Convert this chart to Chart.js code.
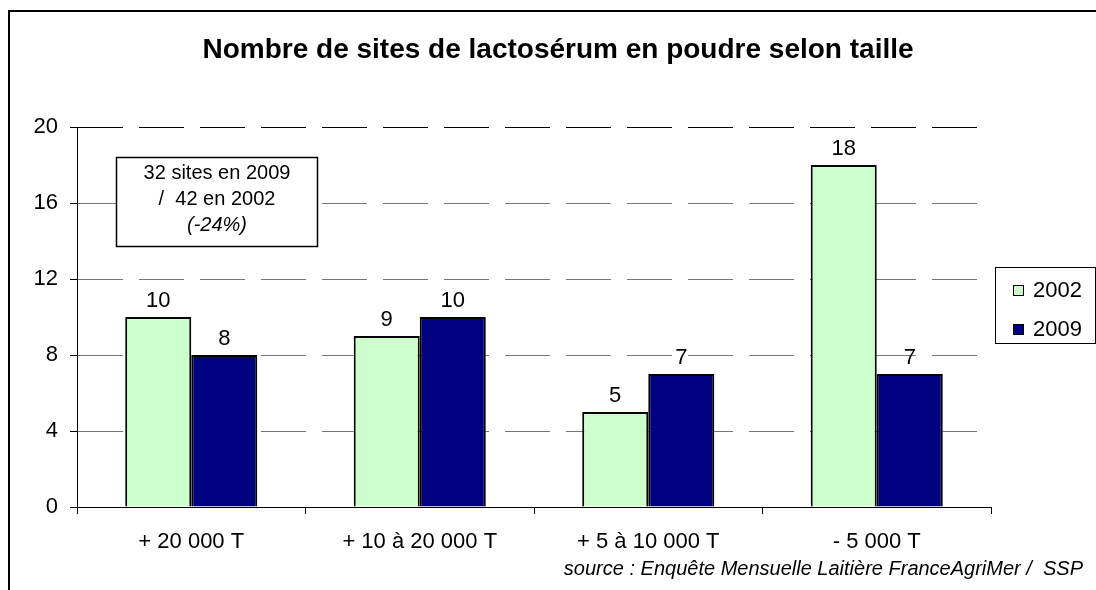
<!DOCTYPE html>
<html>
<head>
<meta charset="utf-8">
<script src="https://cdn.jsdelivr.net/npm/chart.js@4.4.1/dist/chart.umd.min.js"></script>
<style>
  html, body { margin: 0; padding: 0; background: #fff; }
  #wrap { width: 1096px; height: 590px; position: relative; }
</style>
</head>
<body>
<div id="wrap"><canvas id="chart" width="1096" height="590"></canvas></div>
<script>
// data
const categories = ['+ 20 000 T', '+ 10 à 20 000 T', '+ 5 à 10 000 T', '- 5 000 T'];
const series2002 = [10, 9, 5, 18];
const series2009 = [8, 10, 7, 7];
const seriesNames = ['2002', '2009'];
const yTicks = [0, 4, 8, 12, 16, 20];
const titleText = 'Nombre de sites de lactosérum en poudre selon taille';
const noteLines = ['32 sites en 2009', '/  42 en 2002', '(-24%)'];
const sourceText = 'source : Enquête Mensuelle Laitière FranceAgriMer /  SSP';

const FONT = '"Liberation Sans", Arial, sans-serif';
const colors = ['#CCFFCC', '#000080'];

// frame, title, note box, legend, source
const decorPlugin = {
  id: 'decor',
  beforeDraw(chart) {
    const ctx = chart.ctx;
    ctx.save();
    ctx.fillStyle = '#fff';
    ctx.fillRect(0, 0, chart.width, chart.height);
    ctx.strokeStyle = '#000';
    ctx.lineWidth = 2;
    ctx.beginPath();
    ctx.moveTo(9, 590);
    ctx.lineTo(9, 11);
    ctx.lineTo(1096, 11);
    ctx.stroke();
    ctx.restore();
  },
  afterDraw(chart) {
    const ctx = chart.ctx;
    ctx.save();
    ctx.fillStyle = '#000';
    ctx.textAlign = 'center';
    ctx.textBaseline = 'middle';
    ctx.font = 'bold 28px ' + FONT;
    ctx.fillText(titleText, 558, 50);

    // note box
    ctx.fillStyle = '#fff';
    ctx.fillRect(116, 157, 201, 89);
    ctx.strokeStyle = '#000';
    ctx.lineWidth = 1.5;
    ctx.strokeRect(116.5, 157.5, 201, 89);
    ctx.fillStyle = '#000';
    ctx.font = '20px ' + FONT;
    ctx.fillText(noteLines[0], 217, 173);
    ctx.fillText(noteLines[1], 217, 199);
    ctx.font = 'italic 20px ' + FONT;
    ctx.fillText(noteLines[2], 217, 225);

    // legend
    ctx.fillStyle = '#fff';
    ctx.fillRect(995, 267, 100, 76);
    ctx.strokeStyle = '#000';
    ctx.lineWidth = 1;
    ctx.strokeRect(995.5, 267.5, 100, 76);
    ctx.font = '22px ' + FONT;
    ctx.textAlign = 'left';
    const ys = [290, 329];
    seriesNames.forEach((name, i) => {
      ctx.fillStyle = colors[i];
      ctx.fillRect(1013, ys[i] - 5, 11, 11);
      ctx.strokeStyle = '#000';
      ctx.strokeRect(1013.5, ys[i] - 4.5, 10, 10);
      ctx.fillStyle = '#000';
      ctx.fillText(name, 1033, ys[i] + 1);
    });

    // source
    ctx.font = 'italic 20px ' + FONT;
    ctx.textAlign = 'right';
    ctx.fillText(sourceText, 1083, 569);

    // value labels
    ctx.font = '22px ' + FONT;
    ctx.textAlign = 'center';
    ctx.textBaseline = 'middle';
    chart.data.datasets.forEach((ds, di) => {
      chart.getDatasetMeta(di).data.forEach((bar, i) => {
        ctx.fillText(String(ds.data[i]), bar.x, bar.y - 16);
      });
    });
    ctx.restore();
  }
};

new Chart(document.getElementById('chart'), {
  type: 'bar',
  data: {
    labels: categories,
    datasets: [
      { label: seriesNames[0], data: series2002, backgroundColor: colors[0], borderColor: '#000', borderWidth: 2 },
      { label: seriesNames[1], data: series2009, backgroundColor: colors[1], borderColor: '#000', borderWidth: 2 }
    ]
  },
  options: {
    responsive: false,
    animation: false,
    devicePixelRatio: 1,
    layout: { padding: { top: 127, right: 105, left: 0, bottom: 0 } },
    datasets: { bar: { categoryPercentage: 0.578, barPercentage: 1 } },
    plugins: {
      legend: { display: false },
      title: { display: false },
      tooltip: { enabled: false }
    },
    scales: {
      x: {
        afterFit(scale) { scale.height = 83; },
        grid: { display: true, drawOnChartArea: false, drawTicks: true, tickLength: 7, color: '#000', offset: true },
        border: { display: true, color: '#000', width: 1 },
        ticks: { color: '#000', font: { family: FONT, size: 22 }, padding: 15, maxRotation: 0 }
      },
      y: {
        min: 0,
        max: 20,
        afterFit(scale) { scale.width = 77; },
        afterBuildTicks(scale) { scale.ticks = yTicks.map(v => ({ value: v })); },
        grid: {
          color: ctx => (ctx.tick && ctx.tick.value === 20 ? '#000' : '#777'),
          tickColor: '#000',
          tickLength: 7,
          lineWidth: 1
        },
        border: { display: true, color: '#000', width: 1, dash: [45, 16] },
        ticks: { color: '#000', font: { family: FONT, size: 22 }, padding: 12 }
      }
    }
  },
  plugins: [decorPlugin]
});
</script>
</body>
</html>
